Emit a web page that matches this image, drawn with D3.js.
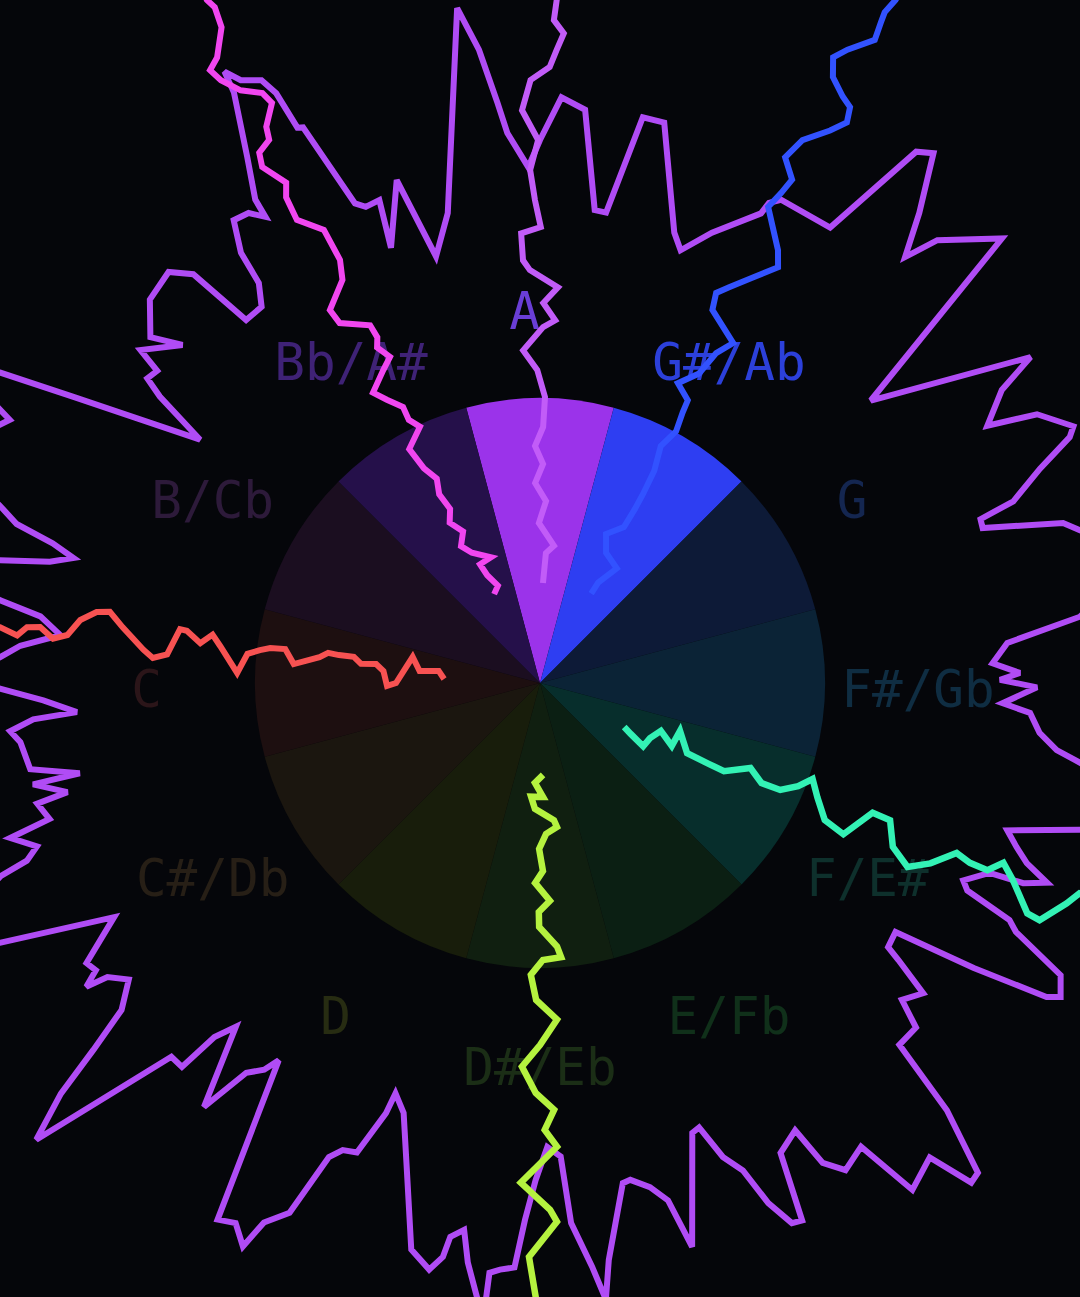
<!DOCTYPE html>
<html>
<head>
<meta charset="utf-8">
<title>Chroma wheel</title>
<script src="https://cdn.jsdelivr.net/npm/d3@7"></script>
<style>
  html, body { margin: 0; padding: 0; background: #05060a; }
  svg { display: block; }
</style>
</head>
<body>
<svg id="chart"></svg>
<script>
// pitch classes, clockwise from the top
const notes = ["A", "G#/Ab", "G", "F#/Gb", "F/E#", "E/Fb", "D#/Eb", "D", "C#/Db", "C", "B/Cb", "Bb/A#"];

// slice + label colours, same order as notes
const sliceColors = ["#9b33ea", "#2e3ef2", "#0d1a37", "#0b2336", "#072e2c", "#0b1f13",
                     "#101f10", "#181d0b", "#1b160f", "#1d0f10", "#1b0e20", "#25104a"];
const labelColors = ["#6a3ed6", "#2c40da", "#142650", "#0f2d42", "#0e302c", "#10301a",
                     "#1b2e16", "#272c12", "#271f16", "#2b1519", "#2d1a3a", "#3f2276"];

// spectrum envelope: [angle in degrees, level]
const envelope = [
  [0,543],[2.1,586],[4.5,575],[6.6,476],[8.0,475],[10.3,575],[12.5,574],[16.6,470],[18.0,455],[20.9,482],
  [25.2,519],[25.5,532],[26.5,540],[32.5,540],[35.3,651],[36.6,660],[38.9,604],[40.6,561],[41.9,595],[46.1,641],
  [49.5,435],[50.3,448],[56.4,589],[57.6,547],[60.1,516],[61.6,565],[64.3,592],[65.1,584],[66.8,544],[69.0,507],
  [69.6,470],[70.7,469],[73.0,547],[74.2,561],[78,620],[83.0,544],[85.1,469],[87.5,453],[88.8,480],[89.6,460],
  [90.5,497],[92.5,463],[93.5,491],[95.7,502],[97.4,521],[98.4,546],[101.5,610],[105.2,560],[107.5,490],[109.0,504],
  [110.3,519],[111.5,545],[112.5,523],[112.9,488],[115.0,467],[115.9,475],[116.8,526],[117.6,537],[119.3,597],[121.1,608],
  [121.8,596],[123.3,519],[125.0,434],[127.2,437],[127.7,453],[129.0,493],[131.2,481],[132.5,510],[135.2,510],[136.4,590],
  [138.2,657],[139.2,660],[140.6,614],[143.7,629],[145.3,564],[147.9,575],[149.5,557],[150.3,515],[152.9,528],[154.0,598],
  [155.0,596],[156.3,568],[157.4,528],[158.9,508],[160.3,472],[161.3,475],[164.9,584],[166.1,533],[167.7,516],[169.7,505],
  [170.6,507],[173.2,581],[173.9,620],[174.9,586],[176.7,541],[177.5,474],[179.1,464],[180.5,497],[181.6,537],[182.5,585],
  [183.9,588],[184.9,592],[185.1,640],[187.1,584],[187.9,552],[189.2,561],[189.6,582],[190.7,597],[192.8,581],[195.4,502],
  [197.6,451],[199.4,435],[199.7,457],[201.3,504],[202.9,507],[204.0,519],[205.3,586],[207.1,606],[207.8,637],[209.4,620],
  [211.0,626],[214.7,459],[215.5,475],[217.0,488],[218.4,541],[221.5,459],[222.6,481],[223.0,525],[224.6,525],[227.8,680],
  [229.4,631],[230.6,578],[232.0,531],[234.2,507],[235.8,523],[236.2,546],[237.1,529],[238.3,533],[241.2,486],[244.3,599],
  [247,640],[250.3,573],[250.9,543],[252.0,529],[253.7,552],[254.5,509],[256.5,517],[257.0,485],[258.7,517],[258.9,469],
  [260.4,517],[263.5,523],[264.8,532],[265.9,508],[266.4,464],[268.0,497],[269.4,540],[270.8,590],[272.7,541],[274.1,521],
  [275.7,482],[277.6,504],[278.7,546],[280.7,600],[282.8,554],[283.9,505],[285.0,483],[286.0,507],[286.9,547],[288.2,569],
  [291,640],[296.4,592],[298.5,660],[299.9,623],[301.5,548],[305.6,418],[307.0,476],[307.8,497],[309.2,494],[309.8,520],
  [313.4,492],[311.6,521],[314.5,547],[317.9,554],[319.7,536],[321.0,467],[323.5,468],[324.9,489],[325.2,524],[326.5,555],
  [328.2,553],[329.5,541],[329.5,561],[330.9,602],[332.6,665],[332.7,688],[333.6,673],[335.2,664],[335.9,646],[336.4,606],
  [336.9,604],[338.9,514],[339.9,507],[341.6,509],[341.1,460],[344.1,523],[346.3,439],[348.9,479],[353.0,680],[354.5,636],
  [355.8,582],[356.6,551],[358.7,516]
];

// pitch trails: [angle in degrees, level], from the inner end outwards
const trailA = [
  [1.7,100],[2.6,130],[5.8,138],[-0.4,160],[1.9,182],[-1.4,200],[0.8,219],[-1.2,237],[0.7,256],[1.0,286],
  [-0.5,313],[-2.9,333],[0.5,356],[2.4,363],[0.5,380],[2.6,396],[-1.4,413],[-2.3,423],[-2.4,450],[0.1,456],
  [-0.6,483],[-1.1,513],[-0.2,543],[-1.8,573],[-0.9,603],[0.9,616],[1.5,633],[2.1,650],[1.2,663],[1.4,683],[1.5,720]
];
const trailGs = [
  [29.8,103],[30.1,116],[33.8,138],[26.9,146],[23.9,163],[28.3,177],[28.6,198],[28.6,215],[28.3,241],[27.0,266],
  [28.4,286],[27.8,306],[27.6,319],[24.7,330],[27.2,348],[28.1,374],[29.6,391],[24.8,411],[24.3,428],[25.6,439],
  [27.8,459],[29.8,479],[28.8,494],[25.6,528],[26.2,546],[26.6,563],[25.0,580],[25.8,603],[27.7,624],[28.7,639],
  [28.3,654],[27.3,660],[25.8,673],[25.1,691],[25.9,704],[27.5,725],[27.3,743],[27.2,754],[27.5,770],[27.6,810]
];
const trailF = [
  [117.6,95],[119.3,104],[121.5,121],[116.6,123],[111.6,130],[115.5,146],[108.9,148],[115.5,163],[115.6,187],[115.6,204],
  [112.0,227],[114.3,243],[114.0,263],[111.8,278],[109.4,289],[112.4,300],[115.7,316],[116.5,339],[111.3,357],[111.4,376],
  [114.9,389],[116.6,411],[114.8,430],[112.2,450],[112.7,466],[112.7,485],[111.2,497],[112.6,512],[115.3,539],[115.4,553],
  [112.7,571],[111.3,579],[111.0,620]
];
const trailDs = [
  [178.1,92],[182.9,100],[178.5,114],[184.5,114],[182.3,126],[174.2,138],[173.3,145],[177.7,151],[180.3,166],[179.1,188],
  [181.4,200],[177.4,218],[180.3,229],[180.2,244],[176.3,264],[175.6,275],[179.4,277],[181.8,292],[180.7,317],[177.1,337],
  [180.0,362],[182.7,384],[180.6,410],[178.1,427],[179.4,447],[177.9,464],[182.2,500],[178.9,527],[178.2,539],[181.1,574],
  [180.4,614],[180.5,660]
];
const trailC = [
  [272.4,96],[276.8,102],[275.7,121],[281.6,130],[270.0,144],[268.9,153],[274.4,157],[276.6,165],[276.1,180],[278.0,188],
  [277.9,203],[278.1,214],[276.7,222],[274.4,247],[277.6,257],[277.4,272],[276.7,282],[275.7,294],[271.9,303],[276.6,322],
  [278.4,331],[276.7,342],[278.4,357],[278.5,364],[274.4,374],[273.7,388],[274.8,398],[277.6,421],[279.4,436],[279.1,449],
  [277.8,464],[275.8,475],[275.2,489],[276.4,503],[276.2,516],[275.2,525],[275.9,543],[276.0,600]
];
const trailBb = [
  [332.7,100],[336.6,106],[333.9,120],[333.2,133],[338.7,135],[332.4,147],[330.0,158],[333.1,170],[330.6,184],[332.7,196],
  [331.9,214],[333.2,229],[331.6,244],[330.8,268],[334.9,283],[333.5,294],[333.6,308],[331.6,322],[330.1,335],[333.4,350],
  [335.3,359],[334.1,373],[334.8,382],[334.6,396],[330.9,412],[330.6,428],[333.9,449],[334.7,468],[334.5,502],[332.3,523],
  [332.4,548],[333.1,561],[331.7,586],[332.1,600],[333.5,607],[333.8,620],[335.2,639],[334.8,652],[333.2,664],[332.1,682],
  [331.7,696],[332.7,704],[334.1,729],[334.3,750],[334.0,760],[334.0,800]
];

const trails = [
  { data: trailA,  color: "#c25cf8", width: 6 },
  { data: trailGs, color: "#3252ff", width: 6 },
  { data: trailF,  color: "#33f2b5", width: 6.5 },
  { data: trailDs, color: "#b5f23f", width: 6.5 },
  { data: trailC,  color: "#f75252", width: 6 },
  { data: trailBb, color: "#f146f0", width: 6 }
];

const width = 1080, height = 1297;
const cx = width / 2, cy = 683;
const pieR = 285;
const labelR = 378;

const svg = d3.select("#chart")
  .attr("width", width)
  .attr("height", height)
  .attr("viewBox", [0, 0, width, height]);

svg.append("rect").attr("width", width).attr("height", height).attr("fill", "#05060a");

const g = svg.append("g").attr("transform", `translate(${cx},${cy})`);

const angle = d3.scaleLinear().domain([0, 360]).range([0, 2 * Math.PI]);
const radius = d3.scaleLinear().domain([0, 285]).range([0, pieR]);

// pie of the twelve pitch classes, A centred at the top
const pie = d3.pie().value(1).sort(null)
  .startAngle(angle(-15)).endAngle(angle(345));
const arc = d3.arc().innerRadius(0).outerRadius(pieR);

const slices = pie(notes);
g.append("g")
  .selectAll("path")
  .data(slices)
  .join("path")
  .attr("d", arc)
  .attr("fill", (d, i) => sliceColors[i]);

g.append("g")
  .selectAll("text")
  .data(slices)
  .join("text")
  .attr("transform", d => {
    const [x, y] = d3.pointRadial((d.startAngle + d.endAngle) / 2, labelR);
    return `translate(${x},${y})`;
  })
  .attr("dy", 6.5)
  .attr("text-anchor", "middle")
  .attr("dominant-baseline", "central")
  .attr("font-family", "'DejaVu Sans Mono', monospace")
  .attr("font-size", 51)
  .attr("fill", (d, i) => labelColors[i])
  .text(d => d.data.padEnd(2, "\u00a0"));

// envelope
const envLine = d3.lineRadial()
  .angle(d => angle(d[0]))
  .radius(d => radius(d[1]))
  .curve(d3.curveLinearClosed);

g.append("path")
  .datum(envelope)
  .attr("d", envLine)
  .attr("fill", "none")
  .attr("stroke", "#b04cf5")
  .attr("stroke-width", 6)
  .attr("stroke-linejoin", "miter")
  .attr("stroke-miterlimit", 3);

// trails
const trailLine = d3.lineRadial()
  .angle(d => angle(d[0]))
  .radius(d => radius(d[1]));

g.append("g")
  .selectAll("path")
  .data(trails)
  .join("path")
  .attr("d", d => trailLine(d.data))
  .attr("fill", "none")
  .attr("stroke", d => d.color)
  .attr("stroke-width", d => d.width)
  .attr("stroke-linejoin", "miter")
  .attr("stroke-miterlimit", 3);
</script>
</body>
</html>
